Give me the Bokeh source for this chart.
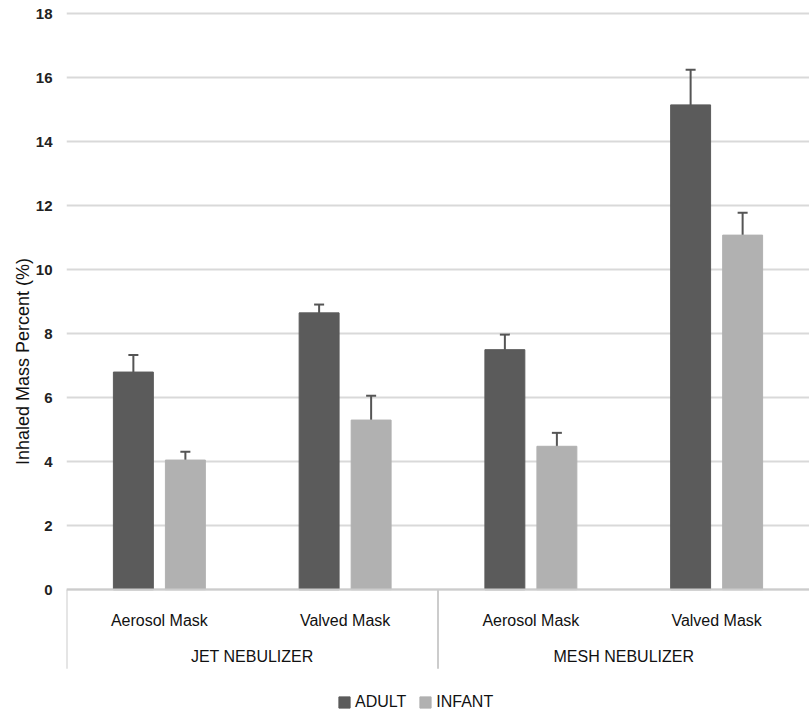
from bokeh.plotting import figure
from bokeh.models import (FactorRange, ColumnDataSource, Whisker, TeeHead, Legend,
                          LegendItem, FixedTicker)
from bokeh.transform import dodge
from bokeh.embed import file_html
from bokeh.resources import INLINE

nebulizers = ["JET NEBULIZER", "JET NEBULIZER", "MESH NEBULIZER", "MESH NEBULIZER"]
masks = ["Aerosol Mask", "Valved Mask", "Aerosol Mask", "Valved Mask"]
adult = [6.8, 8.65, 7.5, 15.15]
adult_err = [0.53, 0.26, 0.47, 1.1]
infant = [4.05, 5.3, 4.48, 11.08]
infant_err = [0.26, 0.76, 0.42, 0.7]
y_ticks = [0, 2, 4, 6, 8, 10, 12, 14, 16, 18]

factors = list(zip(nebulizers, masks))
src = ColumnDataSource(dict(
    x=factors,
    adult=adult,
    infant=infant,
    a_lo=[v - e for v, e in zip(adult, adult_err)],
    a_hi=[v + e for v, e in zip(adult, adult_err)],
    i_lo=[v - e for v, e in zip(infant, infant_err)],
    i_hi=[v + e for v, e in zip(infant, infant_err)],
))

# group boundaries (synthetic coordinates of the factor range)
bounds = [i for i in range(len(nebulizers)) if i == 0 or nebulizers[i] != nebulizers[i - 1]]

xr = FactorRange(*factors, group_padding=0, factor_padding=0, range_padding=0)
p = figure(x_range=xr, y_range=(-3.84, 18.1), frame_width=743, frame_height=702,
           output_backend="svg", toolbar_location=None,
           min_border_top=10, min_border_right=0, min_border_left=66, min_border_bottom=0)

FONT = "Liberation Sans"
ADULT_C = "#5b5b5b"
INFANT_C = "#b1b1b1"
ERR_C = "#555555"
TXT_C = "#111111"
BOX_C = "#cccccc"

r_a = p.vbar(x=dodge("x", -0.14, range=xr), top="adult", width=0.215, source=src,
             fill_color=ADULT_C, line_color=ADULT_C)
r_i = p.vbar(x=dodge("x", 0.14, range=xr), top="infant", width=0.215, source=src,
             fill_color=INFANT_C, line_color=INFANT_C)

for off, lo, hi in [(-0.14, "a_lo", "a_hi"), (0.14, "i_lo", "i_hi")]:
    w = Whisker(base=dodge("x", off, range=xr), lower=lo, upper=hi, source=src,
                line_color=ERR_C, line_width=2,
                upper_head=TeeHead(size=10, line_color=ERR_C, line_width=2),
                lower_head=TeeHead(size=10, line_color=ERR_C, line_width=2))
    p.add_layout(w)

# category box lines below the zero line
p.segment(x0=bounds, x1=bounds, y0=[0] * len(bounds), y1=[-2.47] * len(bounds),
          line_color=BOX_C, line_width=2)

p.outline_line_color = None
p.xgrid.grid_line_color = None
p.ygrid.grid_line_color = "#d9d9d9"
p.ygrid.grid_line_width = 2
p.yaxis.ticker = FixedTicker(ticks=y_ticks)
p.yaxis.axis_line_color = None
p.yaxis.major_tick_line_color = None
p.yaxis.minor_tick_line_color = None
p.yaxis.major_label_text_font = FONT
p.yaxis.major_label_text_font_size = "15px"
p.yaxis.major_label_text_color = "#222222"
p.yaxis.major_label_text_font_style = "bold"
p.yaxis.major_label_standoff = 8
p.yaxis.axis_label = "Inhaled Mass Percent (%)"
p.yaxis.axis_label_text_font = FONT
p.yaxis.axis_label_text_font_size = "18px"
p.yaxis.axis_label_text_font_style = "normal"
p.yaxis.axis_label_text_color = TXT_C
p.yaxis.axis_label_standoff = 0

p.xaxis.fixed_location = 0
p.xaxis.axis_line_color = BOX_C
p.xaxis.axis_line_width = 2
p.xaxis.major_tick_line_color = None
p.xaxis.minor_tick_line_color = None
p.xaxis.major_label_text_font = FONT
p.xaxis.major_label_text_font_size = "16px"
p.xaxis.major_label_text_color = TXT_C
p.xaxis.major_label_standoff = 16
p.xaxis.group_text_font = FONT
p.xaxis.group_text_font_size = "16px"
p.xaxis.group_text_font_style = "normal"
p.xaxis.group_text_color = TXT_C
p.xaxis.separator_line_color = None

legend = Legend(items=[LegendItem(label="ADULT", renderers=[r_a]),
                       LegendItem(label="INFANT", renderers=[r_i])],
                orientation="horizontal", location=(271, 1),
                border_line_color=None, background_fill_alpha=0,
                label_text_font=FONT, label_text_font_size="16px",
                label_text_color=TXT_C,
                glyph_width=14, glyph_height=14, spacing=12,
                label_standoff=4, padding=2, margin=0)
p.add_layout(legend, "center")

open("out.html", "w").write(file_html(p, INLINE))
